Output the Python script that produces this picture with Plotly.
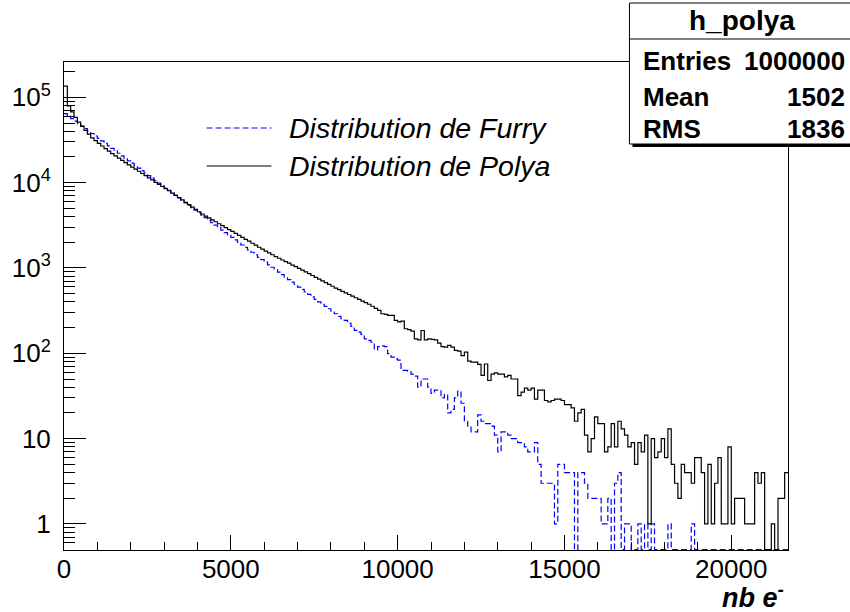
import numpy as np
import plotly.graph_objects as go

# ---------------- data ----------------
bin_width = 100
x_max = 21700

polya_counts = [
    135500, 79100, 67600, 58200, 51300, 45700, 41100, 37100, 33500, 31100,
    28900, 26900, 25100, 23400, 21900, 20600, 19400, 18200, 17200, 16200,
    15200, 14400, 13600, 12800, 12100, 11400, 10800, 10100, 9570, 9020,
    8510, 8040, 7550, 7100, 6670, 6270, 5870, 5520, 5180, 4860,
    4560, 4290, 4060, 3860, 3660, 3480, 3300, 3130, 2970, 2820,
    2680, 2540, 2410, 2290, 2170, 2060, 1950, 1850, 1750, 1660,
    1580, 1500, 1430, 1360, 1300, 1240, 1190, 1140, 1080, 1040,
    989, 944, 899, 857, 817, 778, 741, 706, 673, 641,
    611, 582, 557, 533, 511, 489, 468, 448, 429, 410,
    393, 376, 356, 337, 318, 291, 286, 278, 278, 243,
    234, 239, 194, 189, 182, 148, 144, 185, 144, 148,
    146, 144, 132, 120, 118, 124, 118, 108, 106, 94,
    103, 81, 79, 79, 74, 55, 75, 48, 57, 59,
    57, 57, 53, 55, 50, 50, 32, 35, 39, 37,
    39, 29, 37, 37, 28, 27, 28, 29, 29, 28,
    25, 25, 23, 16, 20, 22, 11, 7, 10, 18,
    15, 15, 7, 8, 15, 8, 16, 13, 11, 8,
    9, 5, 9, 7, 11, 1, 10, 6, 7, 10,
    6, 13, 5, 3, 2, 5, 4, 4, 3, 6,
    6, 4, 1, 5, 1, 3, 6, 1, 1, 8,
    1, 2, 2, 2, 1, 1, 1, 4, 3, 4,
    0, 0, 1, 0, 2, 2, 4,
]

furry_counts = [
    64300, 60100, 56200, 52600, 49200, 46000, 43000, 40300, 37700, 35200,
    33000, 30800, 28800, 27000, 25200, 23600, 22100, 20600, 19300, 18000,
    16900, 15800, 14800, 13800, 12900, 12100, 11300, 10600, 9900, 9260,
    8660, 8100, 7580, 7090, 6630, 6200, 5800, 5430, 5080, 4750,
    4440, 4150, 3890, 3630, 3400, 3180, 2970, 2780, 2600, 2430,
    2280, 2130, 1990, 1860, 1740, 1630, 1530, 1430, 1330, 1250,
    1170, 1090, 1020, 955, 893, 835, 781, 731, 684, 640,
    598, 560, 524, 490, 458, 428, 401, 375, 355, 333,
    305, 291, 271, 254, 243, 226, 207, 186, 177, 167,
    148, 142, 135, 110, 120, 122, 120, 99, 90, 86,
    83, 63, 63, 62, 57, 54, 40, 50, 50, 40,
    34, 37, 37, 30, 33, 20, 22, 30, 36, 26,
    16, 14, 12, 12, 19, 16, 15, 15, 14, 11,
    7, 12, 12, 11, 10, 10, 9, 9, 8, 7,
    7, 9, 5, 3, 3, 3, 3, 1, 5, 5,
    4, 4, 4, 0, 4, 4, 3, 2, 2, 2,
    2, 1, 1, 2, 0, 3, 4, 0, 1, 1,
    0, 0, 1, 0, 1, 0, 1, 0, 0, 0,
    0, 1, 0, 0, 0, 0, 0, 0, 1, 0,
    0, 0, 0, 0, 0, 0, 0, 0, 0, 0,
    0, 0, 0, 0, 0, 0, 0, 0, 0, 0,
    0, 0, 0, 0, 0, 0, 0,
]

x_tick_vals = [0, 5000, 10000, 15000, 20000]
x_tick_text = ["0", "5000", "10000", "15000", "20000"]
y_tick_vals = [1, 10, 100, 1000, 10000, 100000]
y_tick_text = ["1", "10", "10<sup>2</sup>", "10<sup>3</sup>",
               "10<sup>4</sup>", "10<sup>5</sup>"]
legend_labels = ["Distribution de Furry", "Distribution de Polya"]
stats_title = "h_polya"
stats_labels = ["Entries", "Mean", "RMS"]
stats_values = ["1000000", "1502", "1836"]
x_title = "nb e<sup>-</sup>"

# ---------------- figure ----------------
W, H = 850, 612
ML, MR, MT, MB = 62, 62, 62, 62
PW, PH = W - ML - MR, H - MT - MB
y_log_range = [-0.305, 5.414]
y_floor = 10 ** y_log_range[0] * 1.01   # empty bins drawn on the bottom edge

FONT = "Liberation Sans, Arial, Helvetica, sans-serif"


def px(X):
    return (X - ML) / PW


def py(Y):
    return (H - MB - Y) / PH


edges = np.arange(0, x_max + bin_width, bin_width)
assert len(polya_counts) == len(edges) - 1
assert len(furry_counts) == len(edges) - 1


def step_xy(counts):
    c = np.asarray(counts, dtype=float)
    c = np.where(c > 0, c, y_floor)
    return edges, np.append(c, c[-1])


fig = go.Figure()
fx, fy = step_xy(furry_counts)
fig.add_trace(go.Scatter(x=fx, y=fy, mode="lines", line_shape="hv",
                         line=dict(color="#0000ff", width=1.2, dash="6px,3px"),
                         name=legend_labels[0], hoverinfo="skip"))
pxs, pys = step_xy(polya_counts)
fig.add_trace(go.Scatter(x=pxs, y=pys, mode="lines", line_shape="hv",
                         line=dict(color="black", width=1.2),
                         name=legend_labels[1], hoverinfo="skip"))

minor_y = [m * 10 ** d for d in range(-1, 6) for m in range(2, 10)
           if 10 ** y_log_range[0] <= m * 10 ** d <= 10 ** y_log_range[1]]

fig.update_layout(
    width=W, height=H,
    margin=dict(l=ML, r=MR, t=MT, b=MB),
    paper_bgcolor="white", plot_bgcolor="white",
    showlegend=False,
    font=dict(family=FONT, color="black"),
    xaxis=dict(
        range=[0, x_max], showgrid=False, zeroline=False,
        showline=True, mirror=True, linecolor="black", linewidth=1,
        tickmode="array", tickvals=x_tick_vals, ticktext=x_tick_text,
        ticks="inside", ticklen=15, tickwidth=1, tickcolor="black",
        minor=dict(tickmode="linear", tick0=0, dtick=1000, ticks="inside",
                   ticklen=8, tickwidth=1, tickcolor="black", showgrid=False),
        tickfont=dict(family=FONT, size=26, color="black"),
        ticklabelstandoff=-4,
        layer="below traces",
    ),
    yaxis=dict(
        type="log", range=y_log_range, showgrid=False, zeroline=False,
        showline=True, mirror=True, linecolor="black", linewidth=1,
        tickmode="array", tickvals=y_tick_vals, ticktext=y_tick_text,
        ticks="inside", ticklen=22, tickwidth=1, tickcolor="black",
        minor=dict(tickmode="array", tickvals=minor_y, ticks="inside",
                   ticklen=11, tickwidth=1, tickcolor="black", showgrid=False),
        tickfont=dict(family=FONT, size=26, color="black"),
        ticklabelstandoff=7,
        layer="below traces",
    ),
)

shapes = []
annotations = []

# legend (drawn by hand, ROOT TLegend style)
leg_rows = [(128, dict(color="#0000ff", width=1.2, dash="6px,3px")),
            (166, dict(color="black", width=1.2))]
for (yy, ln), label in zip(leg_rows, legend_labels):
    shapes.append(dict(type="line", xref="paper", yref="paper",
                       x0=px(205), x1=px(270), y0=py(yy), y1=py(yy), line=ln))
    annotations.append(dict(xref="paper", yref="paper", x=px(286), y=py(yy),
                            xanchor="left", yanchor="middle", showarrow=False,
                            text="<i>%s</i>" % label,
                            font=dict(family=FONT, size=28.5, color="black")))

# stats box with shadow
shapes.append(dict(type="rect", xref="paper", yref="paper",
                   x0=px(632), x1=px(856), y0=py(6), y1=py(147),
                   fillcolor="black", line=dict(width=0), layer="above"))
shapes.append(dict(type="rect", xref="paper", yref="paper",
                   x0=px(629), x1=px(853), y0=py(3), y1=py(144),
                   fillcolor="white", line=dict(color="black", width=1), layer="above"))
shapes.append(dict(type="line", xref="paper", yref="paper",
                   x0=px(629), x1=px(853), y0=py(39), y1=py(39),
                   line=dict(color="black", width=1), layer="above"))
annotations.append(dict(xref="paper", yref="paper", x=px(742), y=py(21),
                        xanchor="center", yanchor="middle", showarrow=False,
                        text="<b>%s</b>" % stats_title,
                        font=dict(family=FONT, size=28, color="black")))
for yy, lab, val in zip([61, 97, 129], stats_labels, stats_values):
    annotations.append(dict(xref="paper", yref="paper", x=px(641), y=py(yy),
                            xanchor="left", yanchor="middle", showarrow=False,
                            text="<b>%s</b>" % lab,
                            font=dict(family=FONT, size=26, color="black")))
    annotations.append(dict(xref="paper", yref="paper", x=px(847), y=py(yy),
                            xanchor="right", yanchor="middle", showarrow=False,
                            text="<b>%s</b>" % val,
                            font=dict(family=FONT, size=26, color="black")))

# x axis title
annotations.append(dict(xref="paper", yref="paper", x=px(786), y=py(596),
                        xanchor="right", yanchor="middle", showarrow=False,
                        text="<b><i>%s</i></b>" % x_title,
                        font=dict(family=FONT, size=27, color="black")))

fig.update_layout(shapes=shapes, annotations=annotations)
fig.write_html("out.html",
               config={"displayModeBar": False, "staticPlot": True},
               post_script="document.body.style.margin='0px';"
                           "document.body.style.padding='0px';"
                           "document.body.style.overflow='hidden';")
